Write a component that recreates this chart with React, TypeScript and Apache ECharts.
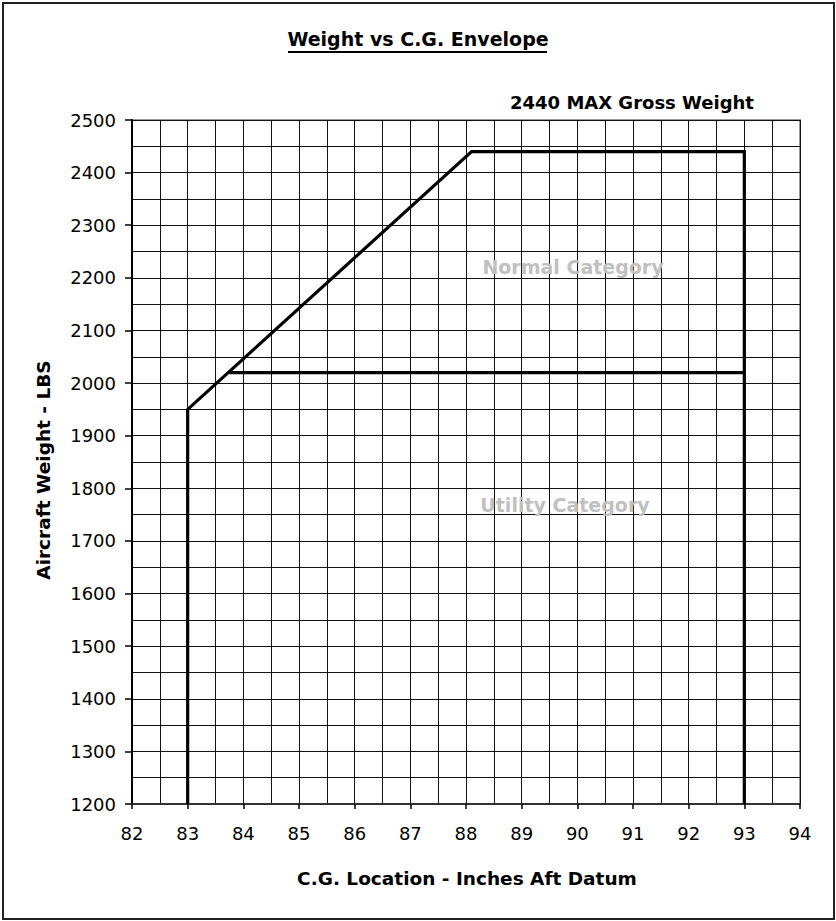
import React, { useEffect, useRef } from "react";
import * as echarts from "echarts";

// Envelope outline (C.G. inches, weight lbs)
const envelopeCG = [83, 83, 88.1, 93, 93];
const envelopeWeight = [1200, 1950, 2440, 2440, 1200];
// Utility category upper limit
const utilityCG = [83.75, 93];
const utilityWeight = [2020, 2020];

const xMin = 82;
const xMax = 94;
const xInterval = 1;
const yMin = 1200;
const yMax = 2500;
const yInterval = 100;

const chartTitle = "Weight vs C.G. Envelope";
const xTitle = "C.G. Location - Inches Aft Datum";
const yTitle = "Aircraft Weight - LBS";
const maxNote = "2440 MAX Gross Weight";
const normalLabel = "Normal Category";
const utilityLabel = "Utility Category";

const FONT = "'DejaVu Sans', 'Liberation Sans', Arial, sans-serif";

export default function App() {
  const ref = useRef<HTMLDivElement>(null);

  useEffect(() => {
    document.body.style.margin = "0";
    if (!ref.current) return;
    const chart = echarts.init(ref.current, null, { renderer: "svg" });

    const envelope = envelopeCG.map((x, i) => [x, envelopeWeight[i]]);
    const utility = utilityCG.map((x, i) => [x, utilityWeight[i]]);

    const gridColor = "#111";

    chart.setOption({
      animation: false,
      backgroundColor: "#fff",
      grid: {
        left: 132,
        right: 36,
        top: 120,
        bottom: 117,
        show: true,
        borderColor: "#9a9a9a",
        borderWidth: 2,
      },
      xAxis: {
        type: "value",
        min: xMin,
        max: xMax,
        interval: xInterval,
        axisLine: { show: true, lineStyle: { color: "#333", width: 2 } },
        axisTick: { show: true, inside: false, length: 5, lineStyle: { color: "#000", width: 1.5 } },
        axisLabel: {
          color: "#000",
          fontSize: 18,
          fontFamily: FONT,
          margin: 20,
          formatter: (v: number) => String(v),
        },
        splitLine: { show: true, lineStyle: { color: gridColor, width: 1 } },
        minorTick: { show: false, splitNumber: 2 },
        minorSplitLine: { show: true, lineStyle: { color: gridColor, width: 1 } },
      },
      yAxis: {
        type: "value",
        min: yMin,
        max: yMax,
        interval: yInterval,
        axisLine: { show: true, onZero: false, lineStyle: { color: "#000", width: 2 } },
        axisTick: { show: true, inside: false, length: 7, lineStyle: { color: "#000", width: 1.5 } },
        axisLabel: {
          color: "#000",
          fontSize: 18,
          fontFamily: FONT,
          margin: 16,
          formatter: (v: number) => String(v),
        },
        splitLine: { show: true, lineStyle: { color: gridColor, width: 1 } },
        minorTick: { show: false, splitNumber: 2 },
        minorSplitLine: { show: true, lineStyle: { color: gridColor, width: 1 } },
      },
      series: [
        {
          type: "line",
          data: envelope,
          showSymbol: false,
          symbol: "none",
          lineStyle: { color: "#000", width: 3.2, join: "miter" },
          z: 5,
        },
        {
          type: "line",
          data: utility,
          showSymbol: false,
          symbol: "none",
          lineStyle: { color: "#000", width: 3.2 },
          z: 5,
        },
      ],
      graphic: [
        {
          type: "rect",
          shape: { x: 3, y: 3, width: 831, height: 916 },
          style: { fill: "none", stroke: "#222", lineWidth: 2 },
          silent: true,
          z: 0,
        },
        {
          type: "text",
          x: 418,
          y: 39,
          style: {
            text: chartTitle,
            align: "center",
            verticalAlign: "middle",
            font: `bold 19px ${FONT}`,
            fill: "#000",
          },
        },
        {
          type: "line",
          shape: { x1: 288, y1: 52, x2: 547, y2: 52 },
          style: { stroke: "#000", lineWidth: 2 },
        },
        {
          type: "text",
          x: 632,
          y: 102,
          style: {
            text: maxNote,
            align: "center",
            verticalAlign: "middle",
            font: `bold 18px ${FONT}`,
            fill: "#000",
          },
        },
        {
          type: "text",
          x: 573,
          y: 267,
          z: 10,
          style: {
            text: normalLabel,
            align: "center",
            verticalAlign: "middle",
            font: `bold 19px ${FONT}`,
            fill: "#c0c0c0",
          },
        },
        {
          type: "text",
          x: 565,
          y: 505,
          z: 10,
          style: {
            text: utilityLabel,
            align: "center",
            verticalAlign: "middle",
            font: `bold 19px ${FONT}`,
            fill: "#c0c0c0",
          },
        },
        {
          type: "text",
          x: 467,
          y: 878,
          style: {
            text: xTitle,
            align: "center",
            verticalAlign: "middle",
            font: `bold 18.5px ${FONT}`,
            fill: "#000",
          },
        },
        {
          type: "text",
          x: 43,
          y: 470,
          rotation: Math.PI / 2,
          style: {
            text: yTitle,
            align: "center",
            verticalAlign: "middle",
            font: `bold 18.5px ${FONT}`,
            fill: "#000",
          },
        },
      ],
    });

    return () => {
      chart.dispose();
    };
  }, []);

  return <div ref={ref} style={{ width: 836, height: 921 }} />;
}
